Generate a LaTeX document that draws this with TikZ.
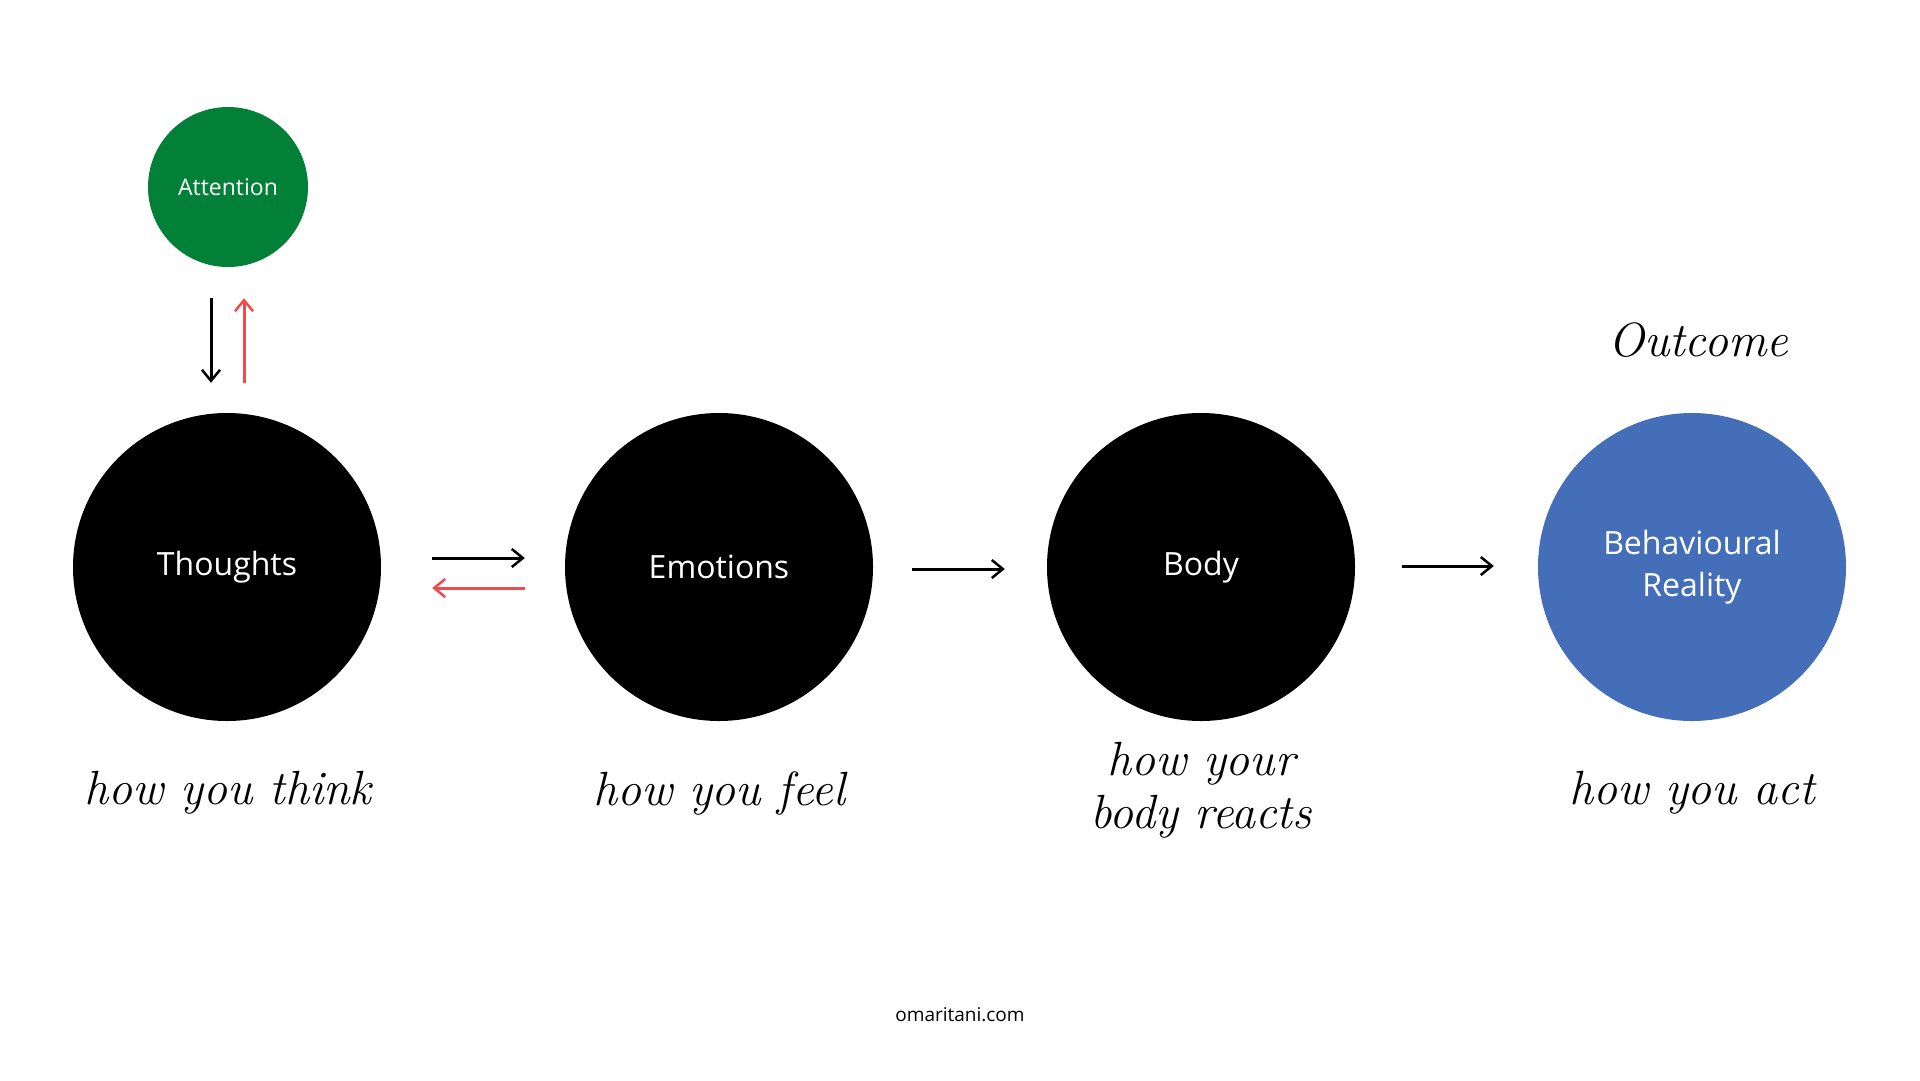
\documentclass[tikz,border=0pt]{standalone}
\usepackage{fontspec}
\setsansfont{Open Sans}
\usetikzlibrary{arrows.meta,positioning}
\definecolor{attgreen}{RGB}{3,128,56}
\definecolor{outblue}{RGB}{69,110,184}
\definecolor{backred}{RGB}{240,74,74}
\begin{document}
\begin{tikzpicture}
		[x=1pt,y=-1pt,
		bignode/.style = {shape=circle, fill=black, text=white, align=center, inner sep=0pt, minimum size=308pt, font=\sffamily\fontsize{32}{42}\selectfont},
		smallnode/.style = {shape=circle, fill=attgreen, text=white, inner sep=0pt, minimum size=160pt, font=\sffamily\fontsize{23}{26}\selectfont},
		hand/.style = {align=center, font=\itshape\fontsize{48}{53}\selectfont},
		fwd/.style = {line width=3pt, -{Straight Barb[length=11pt,width=18pt,line width=2.5pt]}},
		bwd/.style = {fwd, draw=backred}]
		\useasboundingbox[fill=white] (0,0) rectangle (1920,1080);
		\node[smallnode,name=attention] at (228,187) {Attention};
		\node[bignode,name=thoughts] at (227,567) {Thoughts};
		\node[bignode,name=emotions] at (719,567) {Emotions};
		\node[bignode,name=body] at (1201,567) {Body};
		\node[bignode,fill=outblue,name=reality] at (1692,567) {Behavioural\\Reality};
		\node[hand,name=outcome] at (1698,340) {Outcome};
		\node[hand,name=think] at (228,793) {how you think};
		\node[hand,name=feel] at (719,793) {how you feel};
		\node[hand,name=reacts] at (1201,790) {how your\\body reacts};
		\node[hand,name=act] at (1692,793) {how you act};
		\node[font=\sffamily\fontsize{19}{22}\selectfont,name=site] at (960,1015) {omaritani.com};
		\draw[fwd,shorten <=31pt,shorten >=30pt] ([xshift=-17pt]attention.south) -- ([xshift=-17pt]attention.south |- thoughts.north);
		\draw[bwd,shorten <=30pt,shorten >=31pt] ([xshift=16pt]attention.south |- thoughts.north) -- ([xshift=16pt]attention.south);
		\draw[fwd,shorten <=51pt,shorten >=40pt] ([yshift=9pt]thoughts.east) -- ([yshift=9pt]emotions.west);
		\draw[bwd,shorten <=40pt,shorten >=51pt] ([yshift=-21pt]emotions.west) -- ([yshift=-21pt]thoughts.east);
		\draw[fwd,shorten <=39pt,shorten >=42pt] ([yshift=-2pt]emotions.east) -- ([yshift=-2pt]body.west);
		\draw[fwd,shorten <=47pt,shorten >=44pt] ([yshift=1pt]body.east) -- ([yshift=1pt]reality.west);
	\end{tikzpicture}
\end{document}
